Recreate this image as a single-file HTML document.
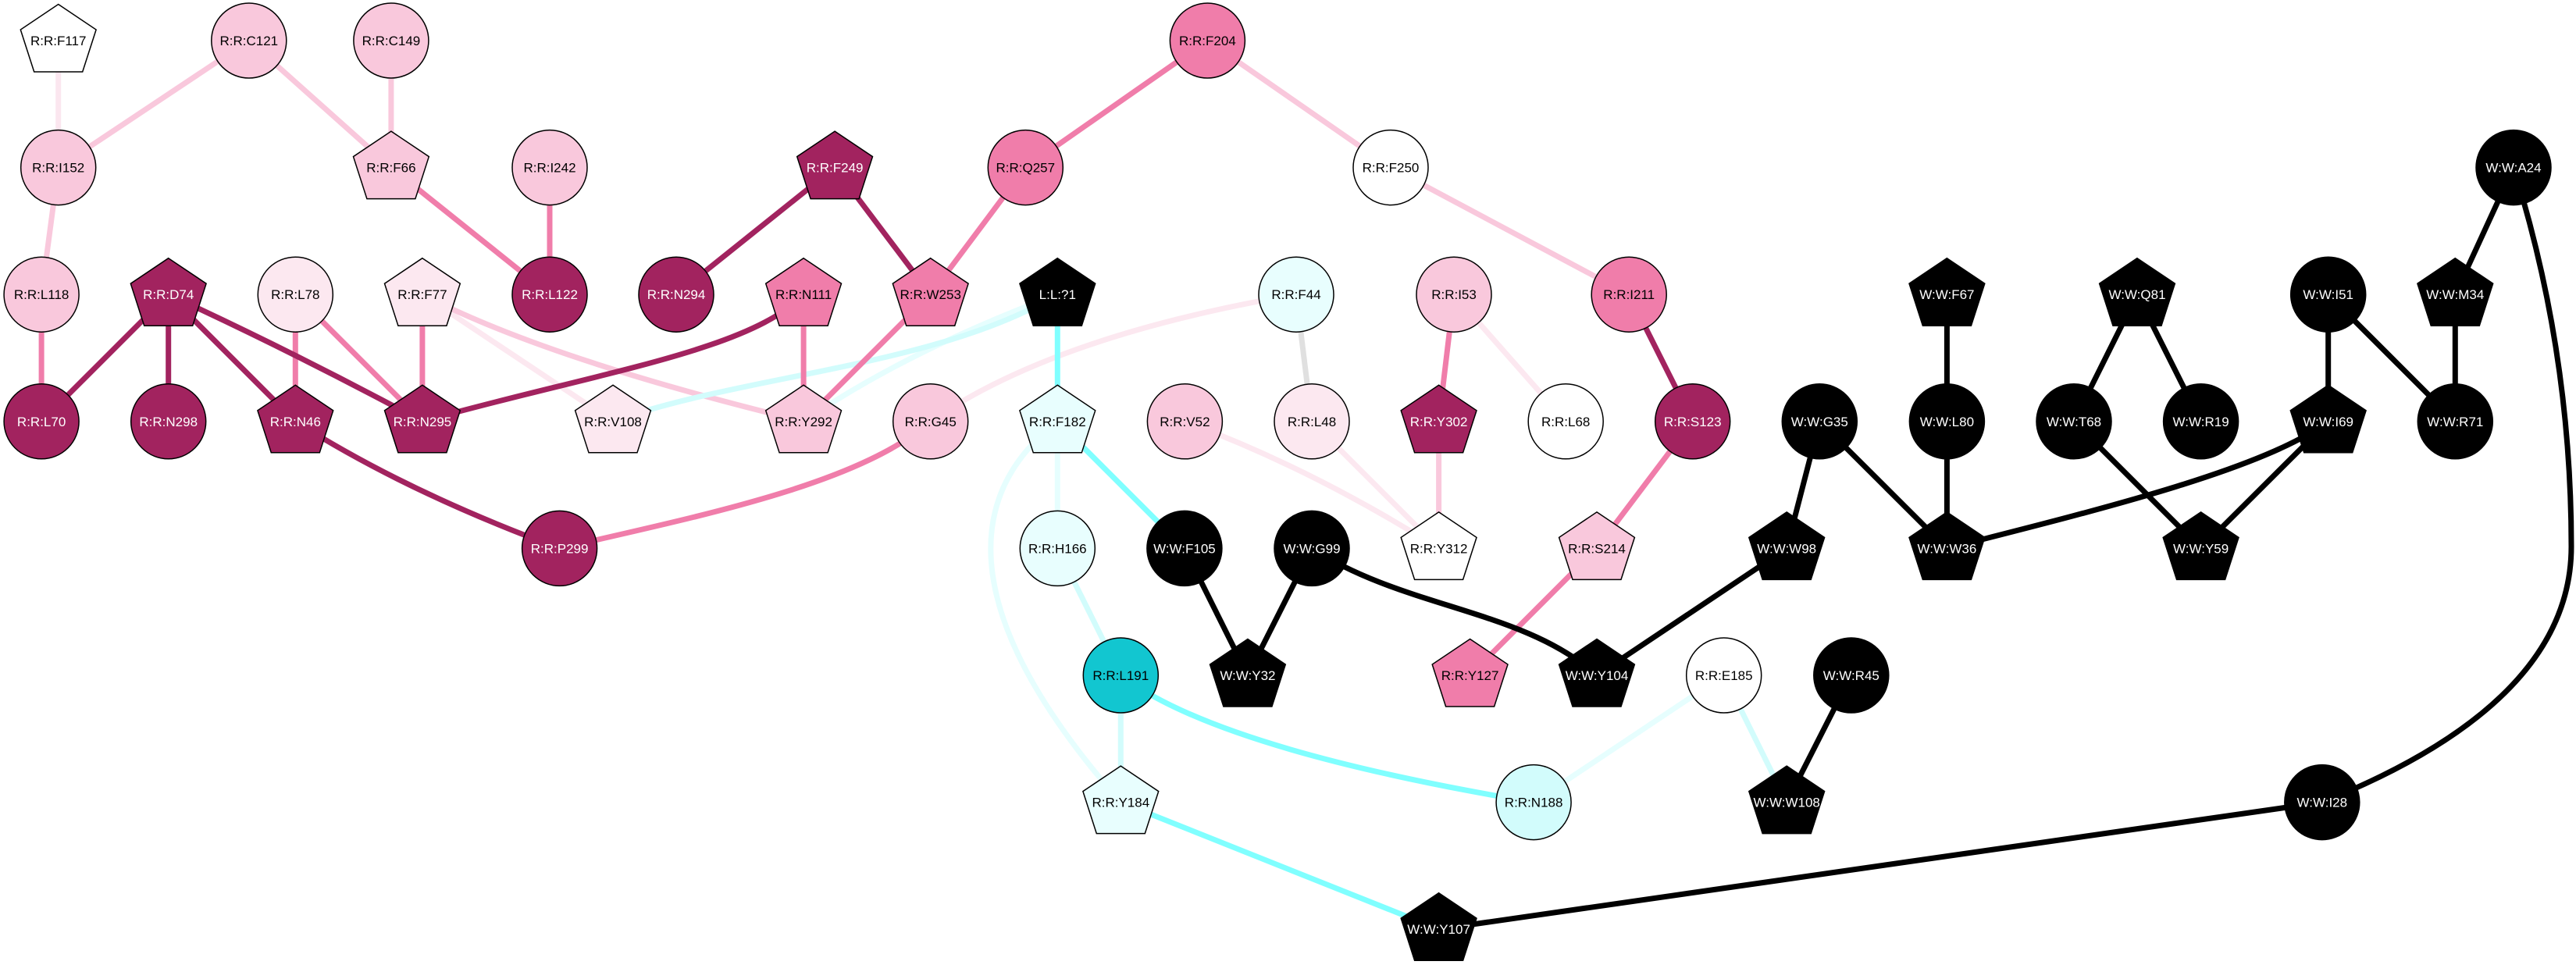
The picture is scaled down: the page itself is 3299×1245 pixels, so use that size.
<!DOCTYPE html>
<html><head><meta charset="utf-8"><style>
html,body{margin:0;padding:0;background:#fff;}
svg{display:block;}
text{font-family:"Liberation Sans",Arial,sans-serif;font-size:17px;text-anchor:middle;}
.e{fill:none;stroke-width:7;stroke-linecap:butt;}
.n{stroke:#000;stroke-width:1.5;}
</style></head><body>
<svg width="3299" height="1245" viewBox="0 0 3299 1245" xmlns="http://www.w3.org/2000/svg">
<rect width="3299" height="1245" fill="#fff"/>
<!-- edges -->
<g class="e">
<!-- very pale pink -->
<line x1="74.7" y1="52" x2="74.7" y2="214.6" stroke="#fbe6ef"/>
<line x1="540.9" y1="377.2" x2="785" y2="539.8" stroke="#fce8f0"/>
<line x1="1862" y1="377.2" x2="2005.2" y2="539.8" stroke="#fce8f0"/>
<line x1="1680" y1="539.8" x2="1842.6" y2="702.4" stroke="#fce8f0"/>
<path d="M1517.4 539.8 Q1680 600 1842.6 702.4" stroke="#fce8f0"/>
<path d="M1191.7 539.8 Q1350 430 1660 377.2" stroke="#fce8f0"/>
<!-- light pink -->
<line x1="318.8" y1="52" x2="74.7" y2="214.6" stroke="#f9c8dc"/>
<line x1="318.8" y1="52" x2="500.9" y2="214.6" stroke="#f9c8dc"/>
<line x1="500.9" y1="52" x2="500.9" y2="214.6" stroke="#f9c8dc"/>
<line x1="74.7" y1="214.6" x2="53.1" y2="377.2" stroke="#f9c8dc"/>
<line x1="1546.4" y1="52" x2="1781" y2="214.6" stroke="#f9c8dc"/>
<line x1="1781" y1="214.6" x2="2086.2" y2="377.2" stroke="#f9c8dc"/>
<line x1="1842.6" y1="539.8" x2="1842.6" y2="702.4" stroke="#f9c8dc"/>
<path d="M540.9 377.2 Q700 460 1029.1 539.8" stroke="#f9c8dc"/>
<!-- grey -->
<line x1="1660" y1="377.2" x2="1680" y2="539.8" stroke="#e0e0e0"/>
<!-- pale cyan -->
<line x1="1354.3" y1="539.8" x2="1354.3" y2="702.4" stroke="#e6fefe"/>
<path d="M1354.3 539.8 C1225 640 1235 800 1435.3 1027.6" stroke="#e6fefe"/>
<line x1="2207.7" y1="865" x2="1964.1" y2="1027.6" stroke="#e6fefe"/>
<path d="M1029.1 539.8 Q1160 450 1354.3 377.2" stroke="#e6fefe"/>
<path d="M785 539.8 C950 480 1200 470 1354.3 377.2" stroke="#d2fcfc"/>
<line x1="1354.3" y1="702.4" x2="1435.3" y2="865" stroke="#d2fcfc"/>
<line x1="1435.3" y1="865" x2="1435.3" y2="1027.6" stroke="#d2fcfc"/>
<line x1="2207.7" y1="865" x2="2288.2" y2="1027.6" stroke="#d2fcfc"/>
<!-- medium pink -->
<line x1="500.9" y1="214.6" x2="704" y2="377.2" stroke="#f07daa"/>
<line x1="704" y1="214.6" x2="704" y2="377.2" stroke="#f07daa"/>
<line x1="53.1" y1="377.2" x2="53.1" y2="539.8" stroke="#f07daa"/>
<line x1="378.3" y1="377.2" x2="378.3" y2="539.8" stroke="#f07daa"/>
<line x1="378.3" y1="377.2" x2="540.9" y2="539.8" stroke="#f07daa"/>
<line x1="540.9" y1="377.2" x2="540.9" y2="539.8" stroke="#f07daa"/>
<line x1="1546.4" y1="52" x2="1313.3" y2="214.6" stroke="#f07daa"/>
<line x1="1313.3" y1="214.6" x2="1191.7" y2="377.2" stroke="#f07daa"/>
<line x1="1029.1" y1="377.2" x2="1029.1" y2="539.8" stroke="#f07daa"/>
<line x1="1191.7" y1="377.2" x2="1029.1" y2="539.8" stroke="#f07daa"/>
<line x1="1862" y1="377.2" x2="1842.6" y2="539.8" stroke="#f07daa"/>
<line x1="2167.7" y1="539.8" x2="2045" y2="702.4" stroke="#f07daa"/>
<line x1="2045" y1="702.4" x2="1882.6" y2="865" stroke="#f07daa"/>
<path d="M1191.7 539.8 C1100 620 900 660 716.6 702.4" stroke="#f07daa"/>
<!-- dark -->
<line x1="215.7" y1="377.2" x2="53.1" y2="539.8" stroke="#a2235f"/>
<line x1="215.7" y1="377.2" x2="215.7" y2="539.8" stroke="#a2235f"/>
<line x1="215.7" y1="377.2" x2="378.3" y2="539.8" stroke="#a2235f"/>
<path d="M215.7 377.2 Q378 452 540.9 539.8" stroke="#a2235f"/>
<path d="M540.9 539.8 C760 478 960 450 1029.1 377.2" stroke="#a2235f"/>
<path d="M378.3 539.8 Q520 630 716.6 702.4" stroke="#a2235f"/>
<line x1="1069.1" y1="214.6" x2="866" y2="377.2" stroke="#a2235f"/>
<line x1="1069.1" y1="214.6" x2="1191.7" y2="377.2" stroke="#a2235f"/>
<line x1="2086.2" y1="377.2" x2="2167.7" y2="539.8" stroke="#a2235f"/>
<!-- cyan -->
<line x1="1354.3" y1="377.2" x2="1354.3" y2="539.8" stroke="#80ffff"/>
<line x1="1354.3" y1="539.8" x2="1516.9" y2="702.4" stroke="#80ffff"/>
<path d="M1435.3 865 Q1560 960 1964.1 1027.6" stroke="#80ffff"/>
<line x1="1435.3" y1="1027.6" x2="1842.6" y2="1190.2" stroke="#80ffff"/>
<!-- black -->
<g stroke="#000">
<line x1="2330.3" y1="539.8" x2="2288.2" y2="702.4"/>
<line x1="2330.3" y1="539.8" x2="2493.4" y2="702.4"/>
<line x1="2493.4" y1="377.2" x2="2493.4" y2="539.8"/>
<line x1="2493.4" y1="539.8" x2="2493.4" y2="702.4"/>
<line x1="2737" y1="377.2" x2="2656" y2="539.8"/>
<line x1="2737" y1="377.2" x2="2818.6" y2="539.8"/>
<line x1="2656" y1="539.8" x2="2818.6" y2="702.4"/>
<line x1="2981.7" y1="539.8" x2="2818.6" y2="702.4"/>
<path d="M2981.7 539.8 C2900 600 2700 650 2493.4 702.4"/>
<line x1="2981.7" y1="377.2" x2="2981.7" y2="539.8"/>
<line x1="2981.7" y1="377.2" x2="3144.3" y2="539.8"/>
<line x1="3144.3" y1="377.2" x2="3144.3" y2="539.8"/>
<line x1="3219" y1="214.6" x2="3144.3" y2="377.2"/>
<path d="M3219 214.6 Q3293 450 3293 700 Q3293 900 2973.8 1027.6"/>
<line x1="1842.6" y1="1190.2" x2="2973.8" y2="1027.6"/>
<line x1="2370.8" y1="865" x2="2288.2" y2="1027.6"/>
<line x1="2288.2" y1="702.4" x2="2045" y2="865"/>
<path d="M1680 702.4 C1800 780 1950 780 2045 865"/>
<line x1="1680" y1="702.4" x2="1597.9" y2="865"/>
<line x1="1516.9" y1="702.4" x2="1597.9" y2="865"/>
</g>
</g>
<!-- nodes -->
<defs>
<polygon id="pg" points="0,-46.5 48.4,-14 31,40 -31,40 -48.4,-14"/>
</defs>
<g class="n">
<!-- row0 -->
<g transform="translate(74.7,52)"><polygon points="0,-46.5 48.4,-14 31,40 -31,40 -48.4,-14" fill="#ffffff"/><text y="6" fill="#000" stroke="none">R:R:F117</text></g>
<g transform="translate(318.8,52)"><circle r="48" fill="#f9c8dc"/><text y="6" fill="#000" stroke="none">R:R:C121</text></g>
<g transform="translate(500.9,52)"><circle r="48" fill="#f9c8dc"/><text y="6" fill="#000" stroke="none">R:R:C149</text></g>
<g transform="translate(1546.4,52)"><circle r="48" fill="#f07daa"/><text y="6" fill="#000" stroke="none">R:R:F204</text></g>
<!-- row1 -->
<g transform="translate(74.7,214.6)"><circle r="48" fill="#f9c8dc"/><text y="6" fill="#000" stroke="none">R:R:I152</text></g>
<g transform="translate(500.9,214.6)"><polygon points="0,-46.5 48.4,-14 31,40 -31,40 -48.4,-14" fill="#f9c8dc"/><text y="6" fill="#000" stroke="none">R:R:F66</text></g>
<g transform="translate(704,214.6)"><circle r="48" fill="#f9c8dc"/><text y="6" fill="#000" stroke="none">R:R:I242</text></g>
<g transform="translate(1069.1,214.6)"><polygon points="0,-46.5 48.4,-14 31,40 -31,40 -48.4,-14" fill="#a2235f"/><text y="6" fill="#fff" stroke="none">R:R:F249</text></g>
<g transform="translate(1313.3,214.6)"><circle r="48" fill="#f07daa"/><text y="6" fill="#000" stroke="none">R:R:Q257</text></g>
<g transform="translate(1781,214.6)"><circle r="48" fill="#ffffff"/><text y="6" fill="#000" stroke="none">R:R:F250</text></g>
<g transform="translate(3219,214.6)"><circle r="48" fill="#000"/><text y="6" fill="#fff" stroke="none">W:W:A24</text></g>
<!-- row2 -->
<g transform="translate(53.1,377.2)"><circle r="48" fill="#f9c8dc"/><text y="6" fill="#000" stroke="none">R:R:L118</text></g>
<g transform="translate(215.7,377.2)"><polygon points="0,-46.5 48.4,-14 31,40 -31,40 -48.4,-14" fill="#a2235f"/><text y="6" fill="#fff" stroke="none">R:R:D74</text></g>
<g transform="translate(378.3,377.2)"><circle r="48" fill="#fce8f0"/><text y="6" fill="#000" stroke="none">R:R:L78</text></g>
<g transform="translate(540.9,377.2)"><polygon points="0,-46.5 48.4,-14 31,40 -31,40 -48.4,-14" fill="#fce8f0"/><text y="6" fill="#000" stroke="none">R:R:F77</text></g>
<g transform="translate(704,377.2)"><circle r="48" fill="#a2235f"/><text y="6" fill="#fff" stroke="none">R:R:L122</text></g>
<g transform="translate(866,377.2)"><circle r="48" fill="#a2235f"/><text y="6" fill="#fff" stroke="none">R:R:N294</text></g>
<g transform="translate(1029.1,377.2)"><polygon points="0,-46.5 48.4,-14 31,40 -31,40 -48.4,-14" fill="#f07daa"/><text y="6" fill="#000" stroke="none">R:R:N111</text></g>
<g transform="translate(1191.7,377.2)"><polygon points="0,-46.5 48.4,-14 31,40 -31,40 -48.4,-14" fill="#f07daa"/><text y="6" fill="#000" stroke="none">R:R:W253</text></g>
<g transform="translate(1354.3,377.2)"><polygon points="0,-46.5 48.4,-14 31,40 -31,40 -48.4,-14" fill="#000"/><text y="6" fill="#fff" stroke="none">L:L:?1</text></g>
<g transform="translate(1660,377.2)"><circle r="48" fill="#e8fefe"/><text y="6" fill="#000" stroke="none">R:R:F44</text></g>
<g transform="translate(1862,377.2)"><circle r="48" fill="#f9c8dc"/><text y="6" fill="#000" stroke="none">R:R:I53</text></g>
<g transform="translate(2086.2,377.2)"><circle r="48" fill="#f07daa"/><text y="6" fill="#000" stroke="none">R:R:I211</text></g>
<g transform="translate(2493.4,377.2)"><polygon points="0,-46.5 48.4,-14 31,40 -31,40 -48.4,-14" fill="#000"/><text y="6" fill="#fff" stroke="none">W:W:F67</text></g>
<g transform="translate(2737,377.2)"><polygon points="0,-46.5 48.4,-14 31,40 -31,40 -48.4,-14" fill="#000"/><text y="6" fill="#fff" stroke="none">W:W:Q81</text></g>
<g transform="translate(2981.7,377.2)"><circle r="48" fill="#000"/><text y="6" fill="#fff" stroke="none">W:W:I51</text></g>
<g transform="translate(3144.3,377.2)"><polygon points="0,-46.5 48.4,-14 31,40 -31,40 -48.4,-14" fill="#000"/><text y="6" fill="#fff" stroke="none">W:W:M34</text></g>
<!-- row3 -->
<g transform="translate(53.1,539.8)"><circle r="48" fill="#a2235f"/><text y="6" fill="#fff" stroke="none">R:R:L70</text></g>
<g transform="translate(215.7,539.8)"><circle r="48" fill="#a2235f"/><text y="6" fill="#fff" stroke="none">R:R:N298</text></g>
<g transform="translate(378.3,539.8)"><polygon points="0,-46.5 48.4,-14 31,40 -31,40 -48.4,-14" fill="#a2235f"/><text y="6" fill="#fff" stroke="none">R:R:N46</text></g>
<g transform="translate(540.9,539.8)"><polygon points="0,-46.5 48.4,-14 31,40 -31,40 -48.4,-14" fill="#a2235f"/><text y="6" fill="#fff" stroke="none">R:R:N295</text></g>
<g transform="translate(785,539.8)"><polygon points="0,-46.5 48.4,-14 31,40 -31,40 -48.4,-14" fill="#fce8f0"/><text y="6" fill="#000" stroke="none">R:R:V108</text></g>
<g transform="translate(1029.1,539.8)"><polygon points="0,-46.5 48.4,-14 31,40 -31,40 -48.4,-14" fill="#f9c8dc"/><text y="6" fill="#000" stroke="none">R:R:Y292</text></g>
<g transform="translate(1191.7,539.8)"><circle r="48" fill="#f9c8dc"/><text y="6" fill="#000" stroke="none">R:R:G45</text></g>
<g transform="translate(1354.3,539.8)"><polygon points="0,-46.5 48.4,-14 31,40 -31,40 -48.4,-14" fill="#e8fefe"/><text y="6" fill="#000" stroke="none">R:R:F182</text></g>
<g transform="translate(1517.4,539.8)"><circle r="48" fill="#f9c8dc"/><text y="6" fill="#000" stroke="none">R:R:V52</text></g>
<g transform="translate(1680,539.8)"><circle r="48" fill="#fce8f0"/><text y="6" fill="#000" stroke="none">R:R:L48</text></g>
<g transform="translate(1842.6,539.8)"><polygon points="0,-46.5 48.4,-14 31,40 -31,40 -48.4,-14" fill="#a2235f"/><text y="6" fill="#fff" stroke="none">R:R:Y302</text></g>
<g transform="translate(2005.2,539.8)"><circle r="48" fill="#ffffff"/><text y="6" fill="#000" stroke="none">R:R:L68</text></g>
<g transform="translate(2167.7,539.8)"><circle r="48" fill="#a2235f"/><text y="6" fill="#fff" stroke="none">R:R:S123</text></g>
<g transform="translate(2330.3,539.8)"><circle r="48" fill="#000"/><text y="6" fill="#fff" stroke="none">W:W:G35</text></g>
<g transform="translate(2493.4,539.8)"><circle r="48" fill="#000"/><text y="6" fill="#fff" stroke="none">W:W:L80</text></g>
<g transform="translate(2656,539.8)"><circle r="48" fill="#000"/><text y="6" fill="#fff" stroke="none">W:W:T68</text></g>
<g transform="translate(2818.6,539.8)"><circle r="48" fill="#000"/><text y="6" fill="#fff" stroke="none">W:W:R19</text></g>
<g transform="translate(2981.7,539.8)"><polygon points="0,-46.5 48.4,-14 31,40 -31,40 -48.4,-14" fill="#000"/><text y="6" fill="#fff" stroke="none">W:W:I69</text></g>
<g transform="translate(3144.3,539.8)"><circle r="48" fill="#000"/><text y="6" fill="#fff" stroke="none">W:W:R71</text></g>
<!-- row4 -->
<g transform="translate(716.6,702.4)"><circle r="48" fill="#a2235f"/><text y="6" fill="#fff" stroke="none">R:R:P299</text></g>
<g transform="translate(1354.3,702.4)"><circle r="48" fill="#e8fefe"/><text y="6" fill="#000" stroke="none">R:R:H166</text></g>
<g transform="translate(1516.9,702.4)"><circle r="48" fill="#000"/><text y="6" fill="#fff" stroke="none">W:W:F105</text></g>
<g transform="translate(1680,702.4)"><circle r="48" fill="#000"/><text y="6" fill="#fff" stroke="none">W:W:G99</text></g>
<g transform="translate(1842.6,702.4)"><polygon points="0,-46.5 48.4,-14 31,40 -31,40 -48.4,-14" fill="#ffffff"/><text y="6" fill="#000" stroke="none">R:R:Y312</text></g>
<g transform="translate(2045,702.4)"><polygon points="0,-46.5 48.4,-14 31,40 -31,40 -48.4,-14" fill="#f9c8dc"/><text y="6" fill="#000" stroke="none">R:R:S214</text></g>
<g transform="translate(2288.2,702.4)"><polygon points="0,-46.5 48.4,-14 31,40 -31,40 -48.4,-14" fill="#000"/><text y="6" fill="#fff" stroke="none">W:W:W98</text></g>
<g transform="translate(2493.4,702.4)"><polygon points="0,-46.5 48.4,-14 31,40 -31,40 -48.4,-14" fill="#000"/><text y="6" fill="#fff" stroke="none">W:W:W36</text></g>
<g transform="translate(2818.6,702.4)"><polygon points="0,-46.5 48.4,-14 31,40 -31,40 -48.4,-14" fill="#000"/><text y="6" fill="#fff" stroke="none">W:W:Y59</text></g>
<!-- row5 -->
<g transform="translate(1435.3,865)"><circle r="48" fill="#12c6d0"/><text y="6" fill="#000" stroke="none">R:R:L191</text></g>
<g transform="translate(1597.9,865)"><polygon points="0,-46.5 48.4,-14 31,40 -31,40 -48.4,-14" fill="#000"/><text y="6" fill="#fff" stroke="none">W:W:Y32</text></g>
<g transform="translate(1882.6,865)"><polygon points="0,-46.5 48.4,-14 31,40 -31,40 -48.4,-14" fill="#f07daa"/><text y="6" fill="#000" stroke="none">R:R:Y127</text></g>
<g transform="translate(2045,865)"><polygon points="0,-46.5 48.4,-14 31,40 -31,40 -48.4,-14" fill="#000"/><text y="6" fill="#fff" stroke="none">W:W:Y104</text></g>
<g transform="translate(2207.7,865)"><circle r="48" fill="#ffffff"/><text y="6" fill="#000" stroke="none">R:R:E185</text></g>
<g transform="translate(2370.8,865)"><circle r="48" fill="#000"/><text y="6" fill="#fff" stroke="none">W:W:R45</text></g>
<!-- row6 -->
<g transform="translate(1435.3,1027.6)"><polygon points="0,-46.5 48.4,-14 31,40 -31,40 -48.4,-14" fill="#e8fefe"/><text y="6" fill="#000" stroke="none">R:R:Y184</text></g>
<g transform="translate(1964.1,1027.6)"><circle r="48" fill="#d2fcfc"/><text y="6" fill="#000" stroke="none">R:R:N188</text></g>
<g transform="translate(2288.2,1027.6)"><polygon points="0,-46.5 48.4,-14 31,40 -31,40 -48.4,-14" fill="#000"/><text y="6" fill="#fff" stroke="none">W:W:W108</text></g>
<g transform="translate(2973.8,1027.6)"><circle r="48" fill="#000"/><text y="6" fill="#fff" stroke="none">W:W:I28</text></g>
<!-- row7 -->
<g transform="translate(1842.6,1190.2)"><polygon points="0,-46.5 48.4,-14 31,40 -31,40 -48.4,-14" fill="#000"/><text y="6" fill="#fff" stroke="none">W:W:Y107</text></g>
</g>
</svg>
</body></html>
